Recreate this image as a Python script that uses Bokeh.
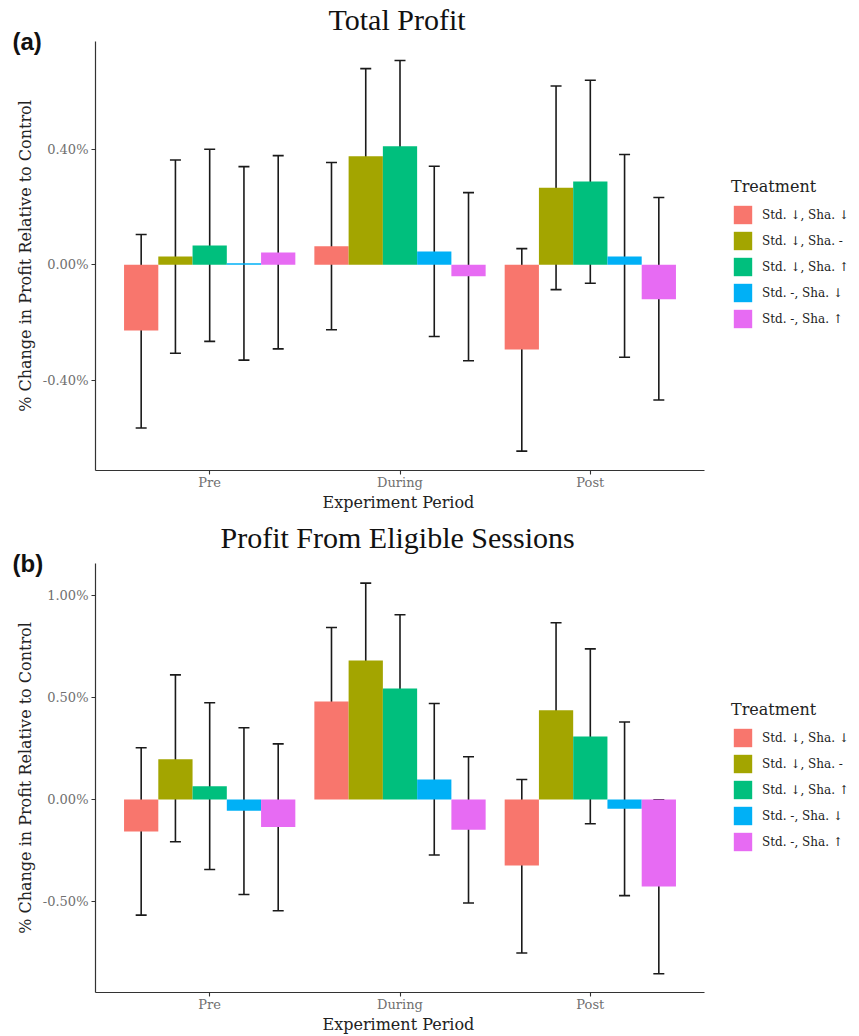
from bokeh.plotting import figure
from bokeh.models import (ColumnDataSource, Range1d, FixedTicker,
                          PrintfTickFormatter, Whisker, TeeHead, Legend, LegendItem, Title)
from bokeh.transform import dodge
from bokeh.layouts import column
from bokeh.embed import file_html
from bokeh.resources import INLINE

periods = ["Pre", "During", "Post"]
treatments = ["Std. ↓, Sha. ↓", "Std. ↓, Sha. -", "Std. ↓, Sha. ↑", "Std. -, Sha. ↓", "Std. -, Sha. ↑"]
colors = ["#F8766D", "#A3A500", "#00BF7D", "#00B0F6", "#E76BF3"]

# Panel (a): Total Profit, % change (values per treatment: Pre, During, Post)
total_mean = [[-0.227, 0.064, -0.293],
              [0.029, 0.376, 0.267],
              [0.067, 0.410, 0.288],
              [0.005, 0.046, 0.029],
              [0.043, -0.040, -0.119]]
total_low = [[-0.565, -0.225, -0.645],
             [-0.306, 0.075, -0.086],
             [-0.265, 0.116, -0.064],
             [-0.330, -0.248, -0.320],
             [-0.291, -0.332, -0.468]]
total_high = [[0.105, 0.354, 0.056],
              [0.363, 0.679, 0.619],
              [0.400, 0.707, 0.639],
              [0.340, 0.341, 0.382],
              [0.378, 0.250, 0.233]]
total_ticks = [-0.4, 0.0, 0.4]

# Panel (b): Profit From Eligible Sessions
elig_mean = [[-0.157, 0.480, -0.323],
             [0.197, 0.680, 0.437],
             [0.065, 0.543, 0.308],
             [-0.055, 0.098, -0.046],
             [-0.135, -0.148, -0.426]]
elig_low = [[-0.566, 0.124, -0.752],
            [-0.207, 0.299, 0.008],
            [-0.343, 0.180, -0.119],
            [-0.465, -0.272, -0.471],
            [-0.545, -0.507, -0.853]]
elig_high = [[0.253, 0.842, 0.098],
             [0.610, 1.059, 0.865],
             [0.473, 0.904, 0.737],
             [0.351, 0.470, 0.379],
             [0.272, 0.209, -0.002]]
elig_ticks = [-0.5, 0.0, 0.5, 1.0]

SERIF = "DejaVu Serif"
FIG_W = 859
LEFT = 95
PLOT_W = 609          # width of the drawn axis area
FRAME_H = 429
UNIT = PLOT_W / 3.2   # px per category step
X_END = 2.6 + (FIG_W - LEFT - PLOT_W) / UNIT   # room for the legend on the right


def make_panel(title, title_offset, tag, mean, low, high, ticks, y_start, y_end,
               top_border, bottom_border, title_standoff, legend_y):
    height = top_border + FRAME_H + bottom_border
    p = figure(width=FIG_W, height=height, x_range=Range1d(-0.6, X_END),
               y_range=Range1d(y_start, y_end), output_backend="svg",
               toolbar_location=None, min_border_left=LEFT, min_border_right=0,
               min_border_top=top_border, min_border_bottom=bottom_border)
    p.title = None
    p.outline_line_color = None
    p.xgrid.visible = False
    p.ygrid.visible = False
    p.background_fill_color = "white"
    p.border_fill_color = "white"

    xpos = list(range(len(periods)))
    width = 0.18
    offsets = [-0.36, -0.18, 0.0, 0.18, 0.36]
    items = []
    for i, (name, col) in enumerate(zip(treatments, colors)):
        src = ColumnDataSource(dict(x=xpos, mean=mean[i], low=low[i], high=high[i]))
        r = p.vbar(x=dodge("x", offsets[i]), top="mean", bottom=0,
                   width=width, source=src, fill_color=col, line_color=None)
        items.append(LegendItem(label=name, renderers=[r]))
        w = Whisker(base=dodge("x", offsets[i]), upper="high",
                    lower="low", source=src, line_color="#1a1a1a", line_width=1.6,
                    upper_head=TeeHead(size=11, line_color="#1a1a1a", line_width=1.6),
                    lower_head=TeeHead(size=11, line_color="#1a1a1a", line_width=1.6))
        p.add_layout(w)

    for ax in (p.xaxis[0], p.yaxis[0]):
        ax.axis_line_color = "#333333"
        ax.axis_line_width = 1.2
        ax.major_tick_line_color = "#333333"
        ax.major_tick_line_width = 1.1
        ax.major_tick_in = 0
        ax.major_tick_out = 4
        ax.minor_tick_line_color = None
        ax.major_label_text_font = SERIF
        ax.major_label_text_font_size = "13px"
        ax.major_label_text_color = "#707070"
        ax.axis_label_text_font = SERIF
        ax.axis_label_text_font_size = "16px"
        ax.axis_label_text_font_style = "normal"
        ax.axis_label_text_color = "#222222"

    p.xaxis.bounds = (-0.6, 2.6)
    p.xaxis.ticker = FixedTicker(ticks=xpos)
    p.xaxis.major_label_overrides = {x: lab for x, lab in zip(xpos, periods)}
    p.xaxis.major_label_standoff = 0
    p.yaxis.axis_label = "% Change in Profit Relative to Control"
    p.yaxis.major_label_standoff = 3
    p.yaxis.axis_label_standoff = 5
    p.yaxis.ticker = FixedTicker(ticks=ticks)
    p.yaxis.formatter = PrintfTickFormatter(format="%.2f%%")

    # x axis title, centred under the axis line (not under the legend area)
    p.add_layout(Title(text="Experiment Period", align="left", offset=227,
                       vertical_align="top", standoff=0, text_font=SERIF,
                       text_font_size="16px", text_font_style="normal",
                       text_color="#222222"), "below")

    legend = Legend(items=items, location=(PLOT_W + 27, legend_y), title="Treatment",
                    title_text_font=SERIF, title_text_font_size="16px",
                    title_text_font_style="normal",
                    title_text_color="#222222", title_standoff=7,
                    label_text_font=SERIF, label_text_font_size="12px",
                    label_text_color="#222222", label_standoff=8,
                    glyph_width=23, glyph_height=23, label_height=23, spacing=3,
                    padding=0, margin=0, border_line_color=None,
                    background_fill_alpha=0)
    p.add_layout(legend)

    # panel tag, drawn next to the top of the y axis
    p.add_layout(Title(text=tag, align="left", offset=-83, vertical_align="middle",
                       standoff=-28, text_font="Liberation Sans", text_font_size="24px",
                       text_font_style="bold", text_color="#111111"), "above")
    # main title, centred over the axis area
    p.add_layout(Title(text=title, align="left", offset=title_offset, vertical_align="top",
                       standoff=title_standoff, text_font="Liberation Serif",
                       text_font_size="30px", text_font_style="normal",
                       text_color="#111111"), "above")
    return p


pa = make_panel("Total Profit", 233, "(a)", total_mean, total_low, total_high, total_ticks,
                -0.712, 0.773, top_border=41, bottom_border=44, title_standoff=5,
                legend_y=140)
pb = make_panel("Profit From Eligible Sessions", 125, "(b)", elig_mean, elig_low, elig_high,
                elig_ticks, -0.945, 1.155, top_border=49, bottom_border=43,
                title_standoff=13, legend_y=139)

layout = column(pa, pb, spacing=0)
open("out.html", "w").write(file_html(layout, INLINE))
